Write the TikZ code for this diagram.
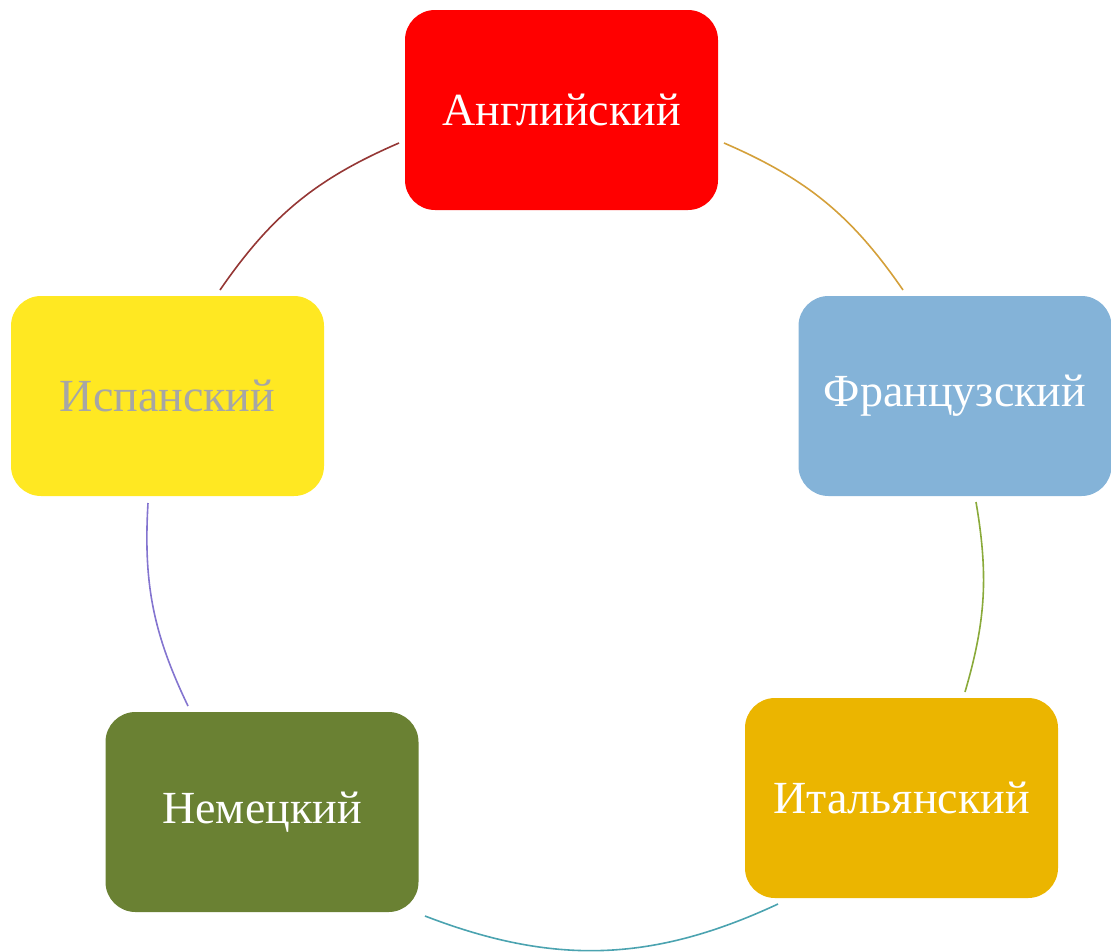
\documentclass[tikz,border=0pt]{standalone}
\usepackage{fontspec}
\setmainfont{Liberation Serif}
\definecolor{cRed}{HTML}{FF0000}
\definecolor{cBlue}{HTML}{84B3D8}
\definecolor{cGold}{HTML}{EBB500}
\definecolor{cOlive}{HTML}{6A8133}
\definecolor{cYellow}{HTML}{FFE822}
\definecolor{cGray}{HTML}{A6A6A6}
\definecolor{aBrown}{HTML}{953735}
\definecolor{aGold}{HTML}{D4A03A}
\definecolor{aGreen}{HTML}{8AAA3A}
\definecolor{aTeal}{HTML}{4BA3B0}
\definecolor{aPurple}{HTML}{8475D0}
\begin{document}
\begin{tikzpicture}[x=1pt,y=-1pt,
  langbox/.style={rounded corners=30pt, minimum width=313pt, minimum height=200pt,
    inner sep=0pt, text=white, font=\fontsize{46}{52}\selectfont},
  cyc/.style={line width=1.6pt}]
\useasboundingbox (0,0) rectangle (1111,951);
\node[langbox, fill=cRed] (en) at (561.5,110) {Английский};
\node[langbox, fill=cBlue] (fr) at (955,396) {Французский};
\node[langbox, fill=cGold] (it) at (901.5,798) {Итальянский};
\node[langbox, fill=cOlive] (de) at (262,812) {Немецкий};
\node[langbox, fill=cYellow, text=cGray] (es) at (167.5,396) {Испанский};
\coordinate (a1) at (220,290);
\coordinate (a2) at (399,143);
\coordinate (b1) at (724,143);
\coordinate (b2) at (903,290);
\coordinate (c1) at (976,502);
\coordinate (c2) at (965,692);
\coordinate (d1) at (778,904);
\coordinate (d2) at (425,916);
\coordinate (e1) at (188,706);
\coordinate (e2) at (148,503);
\draw[cyc, aBrown] (a1) to[bend left=16] (a2);
\draw[cyc, aGold] (b1) to[bend left=16] (b2);
\draw[cyc, aGreen] (c1) to[bend left=13] (c2);
\draw[cyc, aTeal] (d1) to[bend left=23] (d2);
\draw[cyc, aPurple] (e1) to[bend left=14.5] (e2);
\end{tikzpicture}
\end{document}
